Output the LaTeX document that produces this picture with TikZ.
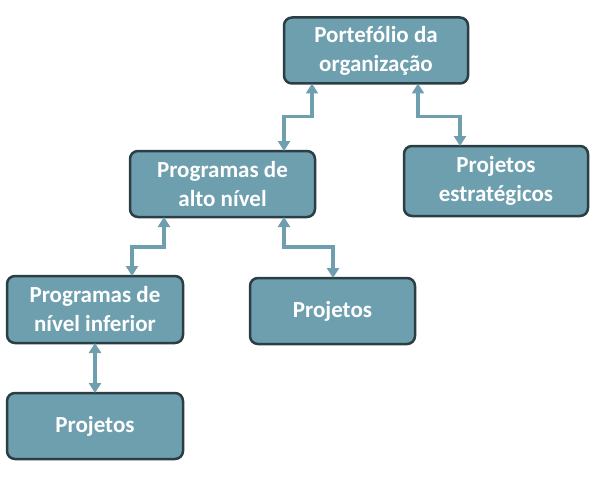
\documentclass[tikz,border=0pt]{standalone}
\usepackage{fontspec}
\setmainfont{Carlito}
\usetikzlibrary{arrows.meta}
\definecolor{boxfill}{HTML}{6E9FAF}
\definecolor{boxline}{HTML}{2B3E44}
\tikzset{>={Triangle[width=12pt,length=10pt]}}

\begin{document}
\begin{tikzpicture}[x=1pt, y=-1pt,
  box/.style={draw=boxline, line width=2.5pt, fill=boxfill, rounded corners=8pt,
    text=white, align=center, inner sep=0pt, outer sep=0pt,
    font=\bfseries\fontsize{23}{29}\selectfont},
  link/.style={<->, draw=boxfill, line width=3.5pt}]

  \useasboundingbox (0,0) rectangle (601,484);

  \node[box, minimum width=184pt, minimum height=66pt] (port) at (376,50.5) {Portefólio da\\organização};
  \node[box, minimum width=185pt, minimum height=66pt] (alto) at (222.5,184) {Programas de\\alto nível};
  \node[box, minimum width=184pt, minimum height=70pt] (strat) at (496,181) {Projetos\\estratégicos};
  \node[box, minimum width=176pt, minimum height=67pt] (inf) at (95,309.5) {Programas de\\nível inferior};
  \node[box, minimum width=165pt, minimum height=66pt] (mid) at (332.5,311) {Projetos};
  \node[box, minimum width=176pt, minimum height=66pt] (bot) at (95,426) {Projetos};

  % ligacoes
  \draw[link] ([xshift=28pt]port.south west) -- ++(0,33) -| ([xshift=154pt]alto.north west);
  \draw[link] ([xshift=134pt]port.south west) -- ++(0,33) -| ([xshift=56pt]strat.north west);
  \draw[link] ([xshift=34pt]alto.south west) -- ++(0,30) -| ([xshift=125pt]inf.north west);
  \draw[link] ([xshift=154pt]alto.south west) -- ++(0,30) -| ([xshift=83pt]mid.north west);
  \draw[link] (inf.south) -- (bot.north);

\end{tikzpicture}
\end{document}
